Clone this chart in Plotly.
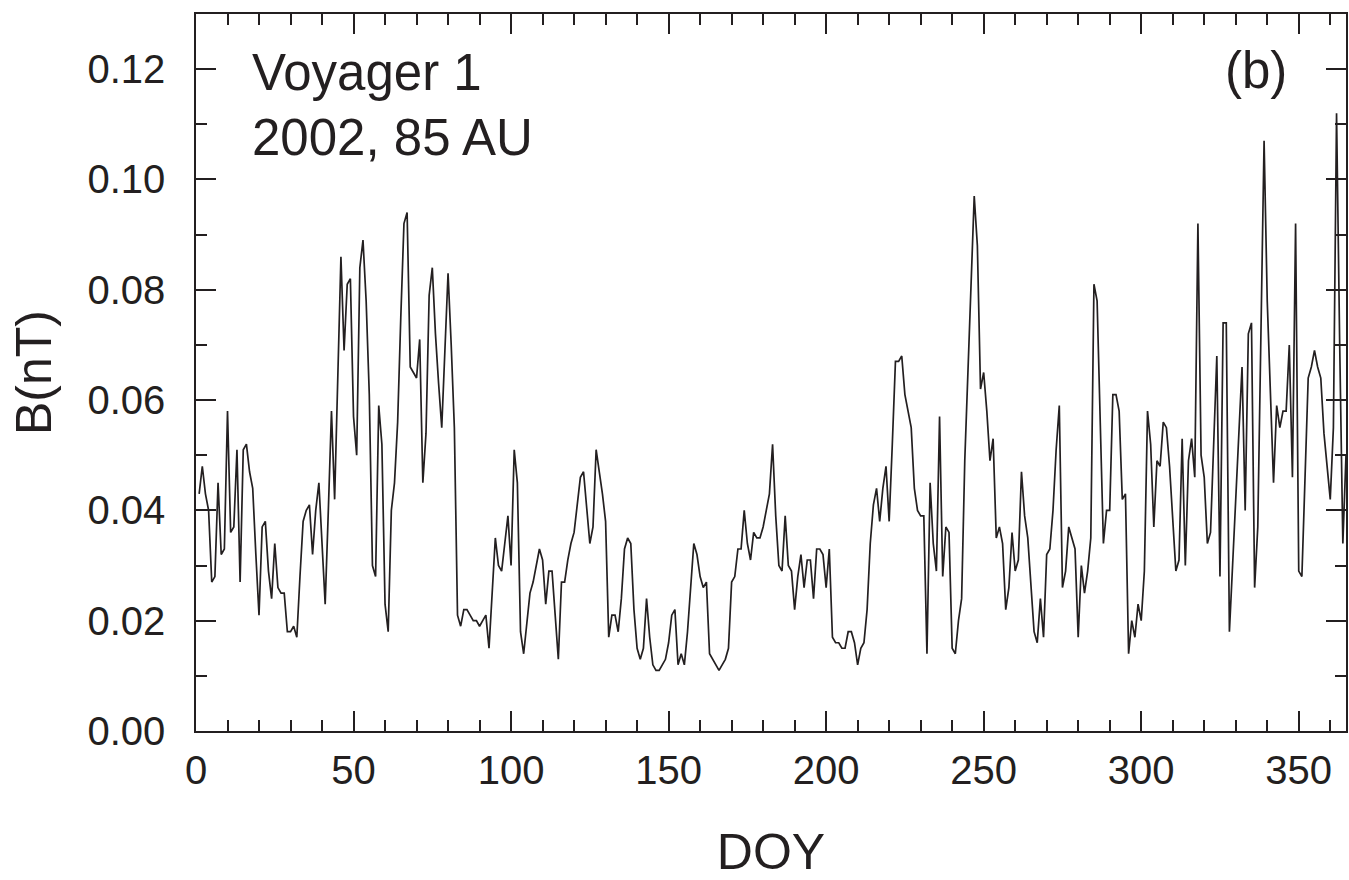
import plotly.graph_objects as go

# Day of year and field magnitude B (nT), Voyager 1, 2002
doy = list(range(1, 366))
b_nt = [
    0.043, 0.048, 0.043, 0.040, 0.027, 0.028, 0.045, 0.032, 0.033, 0.058,
    0.036, 0.037, 0.051, 0.027, 0.051, 0.052, 0.047, 0.044, 0.032, 0.021,
    0.037, 0.038, 0.029, 0.024, 0.034, 0.026, 0.025, 0.025, 0.018, 0.018,
    0.019, 0.017, 0.028, 0.038, 0.040, 0.041, 0.032, 0.040, 0.045, 0.034,
    0.023, 0.040, 0.058, 0.042, 0.064, 0.086, 0.069, 0.081, 0.082, 0.057,
    0.050, 0.084, 0.089, 0.078, 0.061, 0.030, 0.028, 0.059, 0.052, 0.023,
    0.018, 0.040, 0.045, 0.056, 0.075, 0.092, 0.094, 0.066, 0.065, 0.064,
    0.071, 0.045, 0.054, 0.079, 0.084, 0.072, 0.063, 0.055, 0.069, 0.083,
    0.070, 0.055, 0.021, 0.019, 0.022, 0.022, 0.021, 0.020, 0.020, 0.019,
    0.020, 0.021, 0.015, 0.025, 0.035, 0.030, 0.029, 0.034, 0.039, 0.030,
    0.051, 0.045, 0.018, 0.014, 0.020, 0.025, 0.027, 0.030, 0.033, 0.031,
    0.023, 0.029, 0.029, 0.021, 0.013, 0.027, 0.027, 0.031, 0.034, 0.036,
    0.041, 0.046, 0.047, 0.040, 0.034, 0.037, 0.051, 0.047, 0.043, 0.038,
    0.017, 0.021, 0.021, 0.018, 0.024, 0.033, 0.035, 0.034, 0.022, 0.015,
    0.013, 0.015, 0.024, 0.017, 0.012, 0.011, 0.011, 0.012, 0.013, 0.016,
    0.021, 0.022, 0.012, 0.014, 0.012, 0.018, 0.026, 0.034, 0.032, 0.028,
    0.026, 0.027, 0.014, 0.013, 0.012, 0.011, 0.012, 0.013, 0.015, 0.027,
    0.028, 0.033, 0.033, 0.040, 0.034, 0.031, 0.036, 0.035, 0.035, 0.037,
    0.040, 0.043, 0.052, 0.039, 0.030, 0.029, 0.039, 0.030, 0.029, 0.022,
    0.028, 0.032, 0.026, 0.031, 0.031, 0.024, 0.033, 0.033, 0.032, 0.026,
    0.033, 0.017, 0.016, 0.016, 0.015, 0.015, 0.018, 0.018, 0.016, 0.012,
    0.015, 0.016, 0.022, 0.034, 0.041, 0.044, 0.038, 0.044, 0.048, 0.038,
    0.052, 0.067, 0.067, 0.068, 0.061, 0.058, 0.055, 0.044, 0.040, 0.039,
    0.039, 0.014, 0.045, 0.034, 0.029, 0.057, 0.028, 0.037, 0.036, 0.015,
    0.014, 0.020, 0.024, 0.049, 0.064, 0.080, 0.097, 0.088, 0.062, 0.065,
    0.058, 0.049, 0.053, 0.035, 0.037, 0.034, 0.022, 0.026, 0.036, 0.029,
    0.031, 0.047, 0.039, 0.035, 0.027, 0.018, 0.016, 0.024, 0.017, 0.032,
    0.033, 0.040, 0.051, 0.059, 0.026, 0.029, 0.037, 0.035, 0.033, 0.017,
    0.030, 0.025, 0.029, 0.035, 0.081, 0.078, 0.056, 0.034, 0.040, 0.040,
    0.061, 0.061, 0.058, 0.042, 0.043, 0.014, 0.020, 0.017, 0.023, 0.020,
    0.029, 0.058, 0.052, 0.037, 0.049, 0.048, 0.056, 0.055, 0.048, 0.038,
    0.029, 0.031, 0.053, 0.030, 0.049, 0.053, 0.046, 0.092, 0.050, 0.046,
    0.034, 0.036, 0.052, 0.068, 0.028, 0.074, 0.074, 0.018, 0.030, 0.042,
    0.054, 0.066, 0.040, 0.072, 0.074, 0.026, 0.037, 0.070, 0.107, 0.078,
    0.062, 0.045, 0.059, 0.055, 0.058, 0.058, 0.070, 0.046, 0.092, 0.029,
    0.028, 0.046, 0.064, 0.066, 0.069, 0.066, 0.064, 0.054, 0.048, 0.042,
    0.055, 0.112, 0.070, 0.034, 0.050,
]

x_tickvals = [0, 50, 100, 150, 200, 250, 300, 350]
y_tickvals = [0.00, 0.02, 0.04, 0.06, 0.08, 0.10, 0.12]
y_ticktext = ["0.00", "0.02", "0.04", "0.06", "0.08", "0.10", "0.12"]

INK = "#231f20"
FONT = "Liberation Sans, Arial, sans-serif"

fig = go.Figure()
fig.add_trace(go.Scatter(
    x=doy, y=b_nt, mode="lines",
    line=dict(color=INK, width=1.7),
    showlegend=False, hoverinfo="skip",
))

axis_common = dict(
    showgrid=False, zeroline=False, automargin=False,
    showline=True, linecolor=INK, linewidth=1.5,
    mirror="allticks", ticks="inside", ticklen=20, tickwidth=1.5, tickcolor=INK,
    tickfont=dict(family=FONT, size=40, color=INK),
)

fig.update_xaxes(
    range=[0, 365], tickmode="array", tickvals=x_tickvals,
    minor=dict(dtick=10, tick0=0, ticks="inside", ticklen=11, tickwidth=1.5, tickcolor=INK),
    ticklabelstandoff=3,
    title=dict(text="DOY", font=dict(family=FONT, size=50, color=INK), standoff=54),
    **axis_common,
)
fig.update_yaxes(
    range=[0, 0.13], tickmode="array", tickvals=y_tickvals, ticktext=y_ticktext,
    minor=dict(dtick=0.01, tick0=0, ticks="inside", ticklen=11, tickwidth=1.5, tickcolor=INK),
    ticklabelstandoff=21,
    title=dict(text="B(nT)", font=dict(family=FONT, size=50, color=INK), standoff=20),
    **axis_common,
)

fig.add_annotation(
    x=0.047, y=0.919, xref="paper", yref="paper", xanchor="left", yanchor="middle",
    text="Voyager 1", showarrow=False, font=dict(family=FONT, size=51, color=INK),
)
fig.add_annotation(
    x=0.047, y=0.828, xref="paper", yref="paper", xanchor="left", yanchor="middle",
    text="2002, 85 AU", showarrow=False, font=dict(family=FONT, size=51, color=INK),
)
fig.add_annotation(
    x=0.95, y=0.921, xref="paper", yref="paper", xanchor="right", yanchor="middle",
    text="(b)", showarrow=False, font=dict(family=FONT, size=51, color=INK),
)

fig.update_layout(
    width=1349, height=880,
    margin=dict(l=196, r=3, t=14, b=149),
    paper_bgcolor="white", plot_bgcolor="white",
)

fig.write_html(
    "out.html",
    config={"displayModeBar": False},
    post_script="document.body.style.margin='0px';document.body.style.overflow='hidden';",
)
